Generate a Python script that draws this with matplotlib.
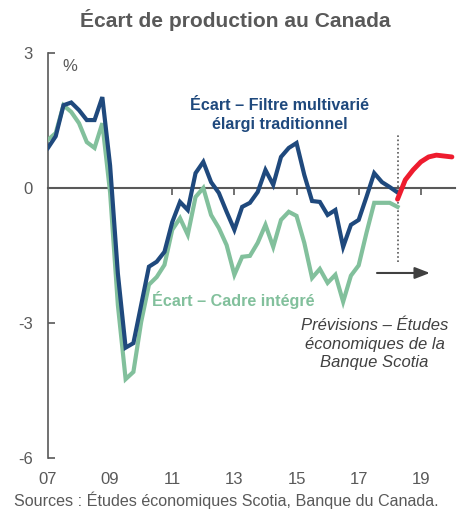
import numpy as np
import matplotlib.pyplot as plt

plt.rcParams['font.family'] = ['Liberation Sans', 'DejaVu Sans']

# Output gap, quarterly, 2007Q1 onward (%)
start_year = 2007
filtre = [0.89, 1.15, 1.84, 1.9, 1.73, 1.51, 1.51, 2.02,
          0.5, -1.9, -3.55, -3.45, -2.6, -1.75, -1.64, -1.42,
          -0.76, -0.31, -0.49, 0.33, 0.58, 0.13, -0.11, -0.53,
          -0.93, -0.42, -0.33, -0.09, 0.4, 0.07, 0.69, 0.89,
          1.0, 0.29, -0.29, -0.31, -0.6, -0.49, -1.31, -0.82,
          -0.71, -0.2, 0.33, 0.13, 0.02, -0.1]
cadre = [1.07, 1.22, 1.84, 1.69, 1.44, 1.02, 0.89, 1.44,
         -0.1, -2.6, -4.25, -4.09, -2.98, -2.15, -1.98, -1.71,
         -0.93, -0.67, -1.04, -0.2, 0.0, -0.6, -0.89, -1.27,
         -1.93, -1.53, -1.51, -1.22, -0.82, -1.31, -0.71, -0.53,
         -0.62, -1.22, -2.0, -1.8, -2.11, -1.93, -2.53, -1.95,
         -1.72, -1.0, -0.33, -0.33, -0.33, -0.42]
# Scotiabank forecast, starting at the last observed quarter
prevision = [-0.25, 0.18, 0.4, 0.58, 0.69, 0.73, 0.71, 0.69]

year_ticks = [2009, 2011, 2013, 2015, 2017, 2019]
year_labels = ['07', '09', '11', '13', '15', '17', '19']
y_ticks = [3, 0, -3, -6]

navy = '#1f497d'
green = '#82c09c'
red = '#ee1c2e'
grey = '#595959'

t_hist = start_year + np.arange(len(filtre)) / 4
t_prev = t_hist[-1] + np.arange(len(prevision)) / 4

fig = plt.figure(figsize=(4.61, 5.15), dpi=100)
ax = fig.add_axes([0.104, 0.111, 0.883, 0.786])

ax.plot(t_hist, cadre, color=green, lw=3, solid_joinstyle='miter', zorder=3)
ax.plot(t_hist, filtre, color=navy, lw=3, solid_joinstyle='miter', zorder=4)
ax.plot(t_prev, prevision, color=red, lw=3.5, solid_capstyle='round', zorder=5)
ax.vlines(t_hist[-1], -1.65, 1.2, colors=grey, linestyles=(0, (1, 1.5)), lw=1.2, zorder=2)

ax.set_xlim(2007, 2020.1)
ax.set_ylim(-6, 3)

# zero line acts as the x axis, ticks hang from it
for s in ['top', 'right']:
    ax.spines[s].set_visible(False)
ax.spines['bottom'].set_position(('data', 0))
ax.spines['bottom'].set_color(grey)
ax.spines['bottom'].set_linewidth(1.5)
ax.spines['left'].set_color(grey)
ax.spines['left'].set_linewidth(1.2)
ax.set_xticks(year_ticks)
ax.tick_params(axis='x', direction='out', length=5, width=1.2, color=grey, labelbottom=False)
ax.set_yticks(y_ticks)
ax.set_yticklabels([str(v) for v in y_ticks])
ax.tick_params(axis='y', direction='in', length=5, width=1.2, color=grey,
               labelsize=12, labelcolor=grey, pad=11)

sec = ax.secondary_xaxis('bottom')
sec.set_xticks([start_year] + year_ticks)
sec.set_xticklabels(year_labels)
sec.spines['bottom'].set_visible(False)
sec.tick_params(length=0, labelsize=12, labelcolor=grey, pad=10)

ax.text(2007.45, 2.7, '%', fontsize=12, color=grey, ha='left', va='center')

ax.text(2014.46, 1.62, 'Écart – Filtre multivarié\nélargi traditionnel', color=navy,
        fontsize=11.6, fontweight='bold', ha='center', va='center', linespacing=1.35)
ax.text(2012.95, -2.49, 'Écart – Cadre intégré', color=green,
        fontsize=11.6, fontweight='bold', ha='center', va='center')
ax.text(2017.51, -3.47, 'Prévisions – Études\néconomiques de la\nBanque Scotia', color='#404040',
        fontsize=12, style='italic', ha='center', va='center', linespacing=1.3)
ax.annotate('', xy=(2019.38, -1.89), xytext=(2017.5, -1.89),
            arrowprops=dict(arrowstyle='-|>,head_length=0.9,head_width=0.35', color='#404040', lw=1.5))

fig.text(0.51, 0.961, 'Écart de production au Canada', fontsize=15.1, fontweight='bold',
         color=grey, ha='center', va='center')
fig.text(0.49, 0.029, 'Sources : Études économiques Scotia, Banque du Canada.', fontsize=11.6,
         color=grey, ha='center', va='center')

fig.savefig('out.png', dpi=100)
